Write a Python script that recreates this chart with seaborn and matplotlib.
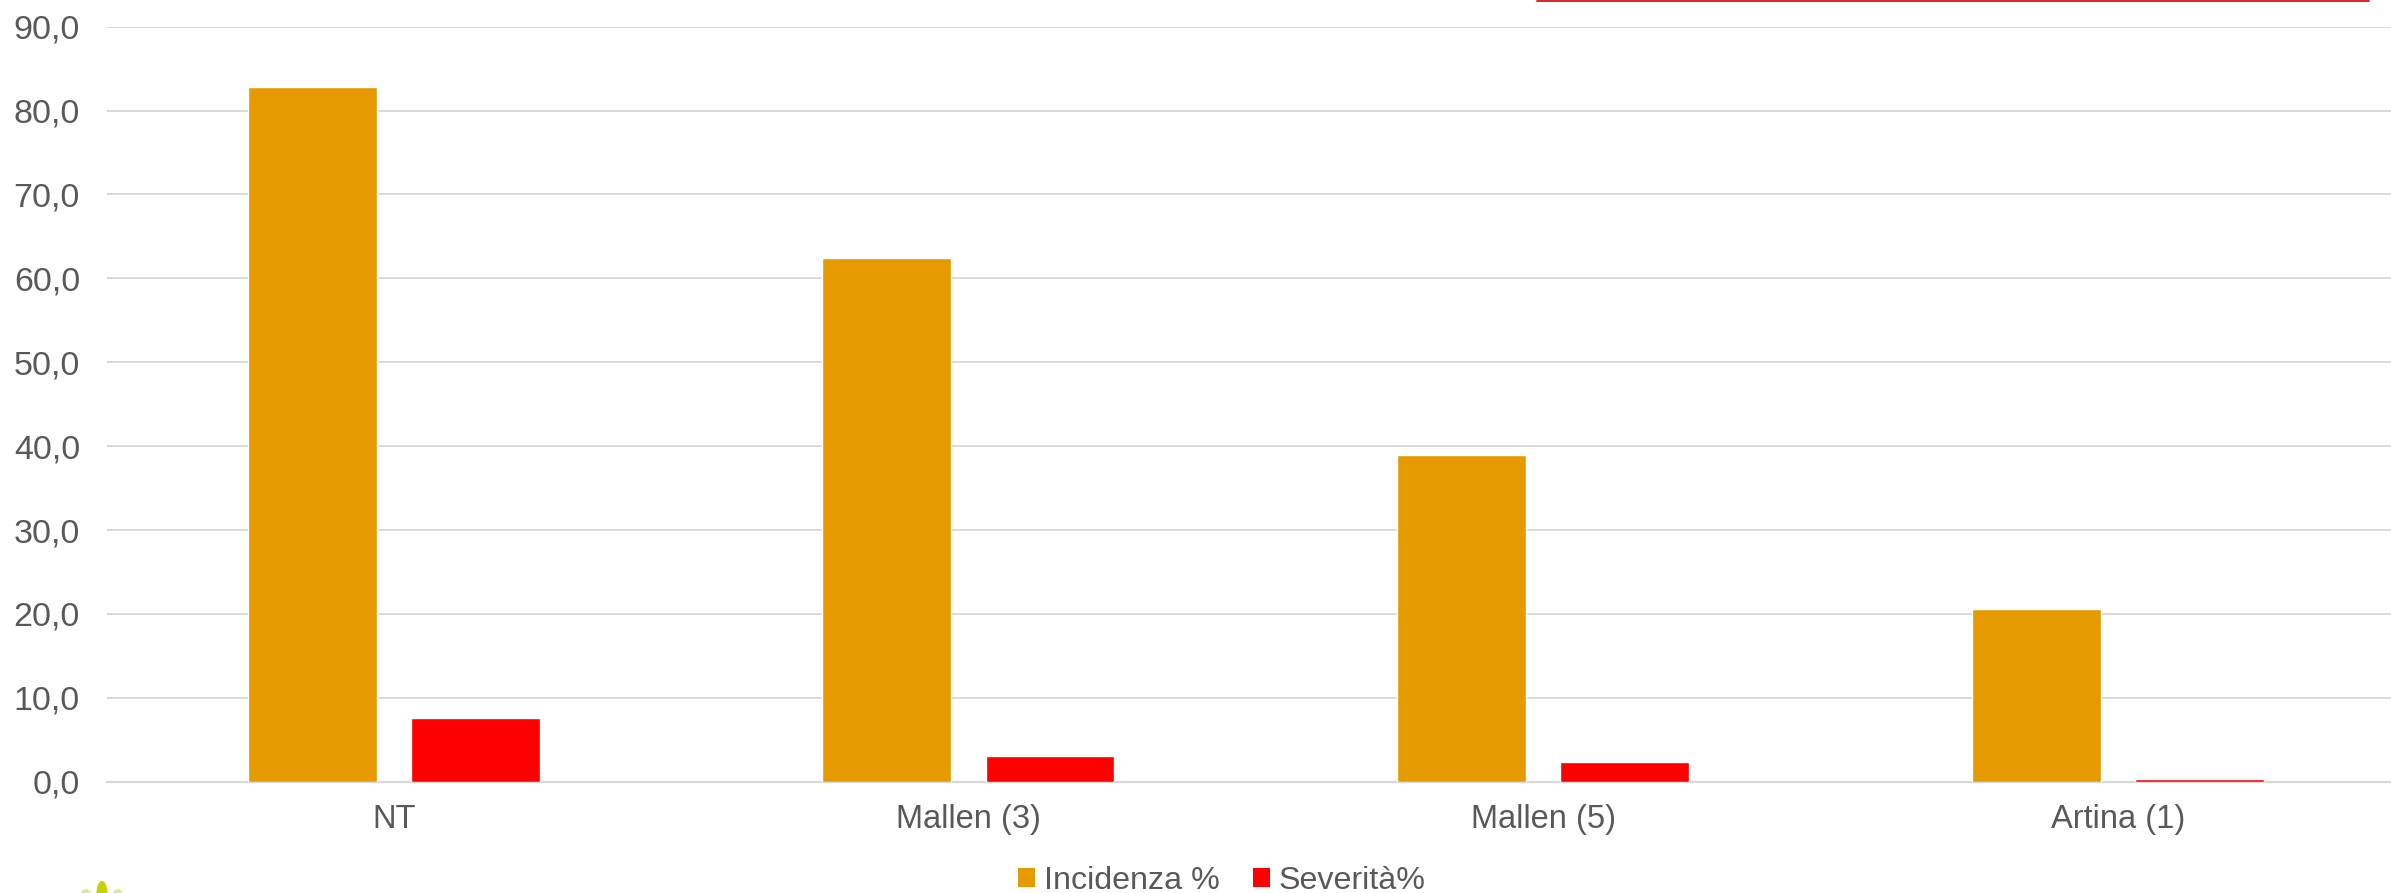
import matplotlib
matplotlib.use("Agg")
import matplotlib.pyplot as plt
from matplotlib.patches import Patch, Ellipse
from matplotlib.lines import Line2D
from matplotlib.ticker import FuncFormatter, MultipleLocator
import numpy as np
import pandas as pd
import seaborn as sns

# values
trattamenti = ["NT", "Mallen (3)", "Mallen (5)", "Artina (1)"]
incidenza = [82.8, 62.4, 39.0, 20.6]
severita = [7.6, 3.1, 2.3, 0.3]
serie = ["Incidenza %", "Severità%"]
colori = ["#E59B00", "#FF0000"]

df = pd.DataFrame({
    "trattamento": trattamenti * 2,
    "valore": incidenza + severita,
    "serie": [serie[0]] * len(trattamenti) + [serie[1]] * len(trattamenti),
})

sns.set_style("white")
plt.rcParams["font.family"] = ["Liberation Sans", "DejaVu Sans"]

W, H = 2391, 893
fig = plt.figure(figsize=(W / 100, H / 100), dpi=100)
# plot area runs a little past the right edge (the picture is cropped)
ax = fig.add_axes([106.5 / W, (H - 781.7) / H, (2405 - 106.5) / W, (781.7 - 26.7) / H])

sns.barplot(data=df, x="trattamento", y="valore", hue="serie", order=trattamenti,
            hue_order=serie, palette=colori, width=0.568, gap=0.21,
            saturation=1, ax=ax, legend=False, zorder=3)

ax.set_ylim(0, 90)
ax.set_xlim(-0.5, len(trattamenti) - 0.5)
ax.yaxis.set_major_locator(MultipleLocator(10))
ax.yaxis.set_major_formatter(FuncFormatter(lambda v, p: f"{v:.1f}".replace(".", ",")))
ax.grid(axis="y", color="#d9d9d9", lw=1.4, zorder=0)
ax.set_axisbelow(True)
for s in ["top", "left", "right"]:
    ax.spines[s].set_visible(False)
ax.spines["bottom"].set_color("#d9d9d9")
ax.spines["bottom"].set_linewidth(1.6)
ax.set_xlabel("")
ax.set_ylabel("")
ax.tick_params(axis="y", length=0, pad=19, labelsize=24.5, labelcolor="#595959")
ax.tick_params(axis="x", length=0, pad=16, labelsize=23.5, labelcolor="#595959")

handles = [Patch(facecolor=c, edgecolor="none") for c in colori]
fig.legend(handles, serie, loc="center", bbox_to_anchor=(1222 / W, (H - 881) / H),
           ncol=2, frameon=False, fontsize=23.2, labelcolor="#595959",
           handlelength=0.53, handleheight=0.53, handletextpad=0.26,
           columnspacing=1.05, borderpad=0, borderaxespad=0)

# red rule at the top edge (part of the cropped page)
fig.add_artist(Line2D([1537 / W, 2369 / W], [(H - 0.8) / H, (H - 0.8) / H],
                      transform=fig.transFigure, color="#d2161e", lw=1.3))

# bit of a logo peeking in at the bottom left
for cx, cy, w, h, col in [(102, 893, 11, 24, "#c5d400"), (86, 893, 9, 8, "#dfe6a0"),
                          (118, 893, 9, 8, "#dfe6a0")]:
    fig.add_artist(Ellipse((cx / W, (H - cy) / H), w / W, h / H,
                           transform=fig.transFigure, color=col, lw=0))

fig.savefig("out.png", dpi=100)
